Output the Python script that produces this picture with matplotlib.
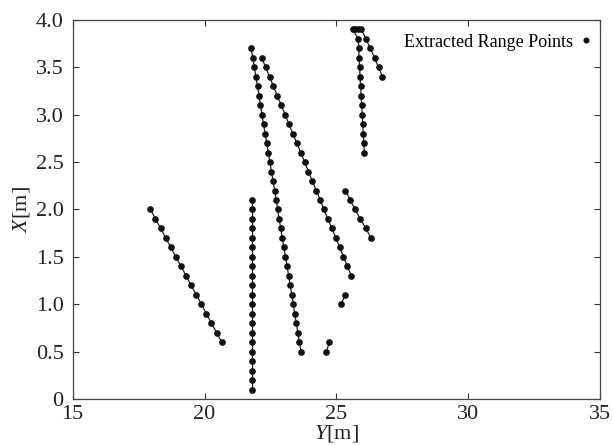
import matplotlib
matplotlib.use('Agg')
import matplotlib.pyplot as plt
from matplotlib.lines import Line2D

plt.rcParams['font.family'] = 'Liberation Serif'
plt.rcParams['mathtext.fontset'] = 'custom'
plt.rcParams['mathtext.rm'] = 'Liberation Serif'
plt.rcParams['mathtext.it'] = 'Liberation Serif:italic'

# ---------------------------------------------------------------------------
# Extracted range points, one list pair per segment (Y = horizontal, X = vertical)
# ---------------------------------------------------------------------------

seg1_y = [17.95, 18.14, 18.34, 18.53, 18.72, 18.91, 19.11, 19.30, 19.49, 19.69,
          19.88, 20.07, 20.26, 20.46, 20.65]
seg1_x = [2.0, 1.9, 1.8, 1.7, 1.6, 1.5, 1.4, 1.3, 1.2, 1.1, 1.0, 0.9, 0.8, 0.7, 0.6]

seg2_y = [21.8] * 21
seg2_x = [2.1, 2.0, 1.9, 1.8, 1.7, 1.6, 1.5, 1.4, 1.3, 1.2, 1.1, 1.0, 0.9, 0.8,
          0.7, 0.6, 0.5, 0.4, 0.3, 0.2, 0.1]

seg3_y = [21.77, 21.83, 21.89, 21.95, 22.01, 22.07, 22.12, 22.18, 22.24, 22.30,
          22.36, 22.42, 22.48, 22.54, 22.60, 22.66, 22.72, 22.77, 22.83, 22.89,
          22.95, 23.01, 23.07, 23.13, 23.19, 23.25, 23.31, 23.37, 23.42, 23.48,
          23.54, 23.60, 23.66]
seg3_x = [3.7, 3.6, 3.5, 3.4, 3.3, 3.2, 3.1, 3.0, 2.9, 2.8, 2.7, 2.6, 2.5, 2.4,
          2.3, 2.2, 2.1, 2.0, 1.9, 1.8, 1.7, 1.6, 1.5, 1.4, 1.3, 1.2, 1.1, 1.0,
          0.9, 0.8, 0.7, 0.6, 0.5]

seg4_y = [22.17, 22.32, 22.47, 22.61, 22.76, 22.91, 23.06, 23.20, 23.35, 23.50,
          23.65, 23.80, 23.94, 24.09, 24.24, 24.39, 24.53, 24.68, 24.83, 24.98,
          25.13, 25.27, 25.42, 25.57]
seg4_x = [3.6, 3.5, 3.4, 3.3, 3.2, 3.1, 3.0, 2.9, 2.8, 2.7, 2.6, 2.5, 2.4, 2.3,
          2.2, 2.1, 2.0, 1.9, 1.8, 1.7, 1.6, 1.5, 1.4, 1.3]

seg5_y = [24.62, 24.74]
seg5_x = [0.5, 0.6]

seg6_y = [25.18, 25.34]
seg6_x = [1.0, 1.1]

seg7_y = [25.34, 25.53, 25.71, 25.91, 26.12, 26.31]
seg7_x = [2.2, 2.1, 2.0, 1.9, 1.8, 1.7]

seg8_y = [26.06, 26.04, 26.02, 26.00, 25.98, 25.96, 25.94, 25.92, 25.90, 25.88,
          25.86, 25.85, 25.83, 25.62, 25.72, 25.83, 25.95, 26.12, 26.29, 26.45,
          26.60, 26.75]
seg8_x = [2.6, 2.7, 2.8, 2.9, 3.0, 3.1, 3.2, 3.3, 3.4, 3.5, 3.6, 3.7, 3.8,
          3.9, 3.9, 3.9, 3.9, 3.8, 3.7, 3.6, 3.5, 3.4]

SEGMENTS = [(seg1_y, seg1_x), (seg2_y, seg2_x), (seg3_y, seg3_x), (seg4_y, seg4_x),
            (seg5_y, seg5_x), (seg6_y, seg6_x), (seg7_y, seg7_x), (seg8_y, seg8_x)]

x_ticks = [15, 20, 25, 30, 35]
y_ticks = [0, 0.5, 1.0, 1.5, 2.0, 2.5, 3.0, 3.5, 4.0]
y_tick_labels = ['0', '0.5', '1.0', '1.5', '2.0', '2.5', '3.0', '3.5', '4.0']

# ---------------------------------------------------------------------------
# Plot
# ---------------------------------------------------------------------------

fig = plt.figure(figsize=(6.13, 4.45), dpi=100)
ax = fig.add_axes([0.1186, 0.1034, 0.8602, 0.8517])

for ys, xs in SEGMENTS:
    ax.plot(ys, xs, '-', color='#222222', linewidth=0.9)
    ax.plot(ys, xs, 'o', color='#111111', markersize=3.8, linestyle='none')

handle = Line2D([], [], marker='o', color='#111111', markersize=3.3, linestyle='none')
ax.legend([handle], ['Extracted Range Points'], loc='upper right',
          bbox_to_anchor=(1.003, 0.985), frameon=False,
          markerfirst=False, handlelength=0.8, handletextpad=0.35, fontsize=13,
          borderaxespad=0.05, borderpad=0.4)

ax.set_xlim(15, 35)
ax.set_ylim(0, 4.0)
ax.set_xticks(x_ticks)
ax.set_yticks(y_ticks)
ax.set_yticklabels(y_tick_labels)
ax.tick_params(direction='in', top=True, right=True, length=4, width=0.8,
               labelsize=16, colors='#333333', labelcolor='#222222')
ax.tick_params(axis='x', pad=4.5)
ax.tick_params(axis='y', pad=6.5)
for sp in ax.spines.values():
    sp.set_color('#444444')
    sp.set_linewidth(0.9)

ax.set_xlabel('$\\mathit{Y}$[m]', fontsize=16, labelpad=-1, color='#222222')
ax.set_ylabel('$\\mathit{X}$[m]', fontsize=16, labelpad=3, color='#222222')

fig.savefig('out.png', dpi=100)
